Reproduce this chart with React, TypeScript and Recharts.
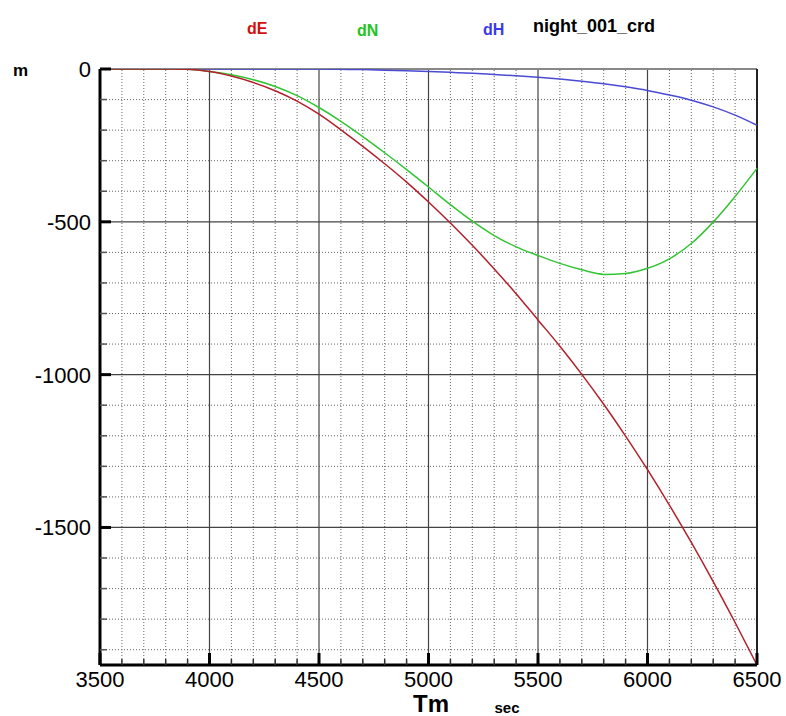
import { LineChart, Line, XAxis, YAxis, ReferenceLine } from "recharts";

// time in sec
const times = [
  3500, 3600, 3700, 3800, 3900, 4000, 4100, 4200, 4300, 4400, 4500, 4600, 4700, 4800, 4900, 5000,
  5100, 5200, 5300, 5400, 5500, 5600, 5700, 5800, 5900, 6000, 6100, 6200, 6300, 6400, 6500,
];
const dE = [
  0, 0, 0, 0, -1, -8, -23, -44, -71, -105, -148, -199, -253, -310, -370, -435,
  -504, -577, -654, -735, -821, -907, -999, -1097, -1201, -1311, -1427, -1549, -1677, -1811, -1950,
];
const dN = [
  0, 0, 0, 0, -1, -8, -19, -35, -57, -87, -126, -171, -221, -274, -329, -386,
  -444, -498, -545, -582, -610, -636, -657, -672, -669, -652, -621, -571, -501, -417, -325,
];
const dH = [
  0, 0, 0, 0, 0, 0, 0, 0, 0, 0, 0, -1, -2, -4, -6, -8,
  -11, -14, -18, -22, -27, -33, -40, -48, -58, -70, -85, -102, -124, -151, -184,
];

const xTicks = times;
const xLabels = [3500, 4000, 4500, 5000, 5500, 6000, 6500];
const yTicks = [
  0, -100, -200, -300, -400, -500, -600, -700, -800, -900, -1000,
  -1100, -1200, -1300, -1400, -1500, -1600, -1700, -1800, -1900,
];
const yLabels = [0, -500, -1000, -1500];

const xMajor = xLabels.filter((v) => v > 3500 && v < 6500);
const xMinor = xTicks.filter((v) => v > 3500 && v < 6500 && !xLabels.includes(v));
const yMajor = yLabels.filter((v) => v < 0);
const yMinor = yTicks.filter((v) => v < 0 && !yLabels.includes(v));

const data = times.map((t, i) => ({ t, dE: dE[i], dN: dN[i], dH: dH[i] }));

const FONT = "'Liberation Sans', Arial, sans-serif";

function XTick({ x, y, payload }: any) {
  const major = xLabels.includes(payload.value);
  return (
    <g>
      <line x1={x} x2={x} y1={y} y2={y - (major ? 12 : 6)} stroke={major ? "#000" : "#333"} strokeWidth={major ? 3 : 1.5} />
      {major && (
        <text x={x} y={y + 22} textAnchor="middle" fontSize={22} fontFamily={FONT} fill="#000">
          {payload.value}
        </text>
      )}
    </g>
  );
}

function YTick({ x, y, payload }: any) {
  const major = yLabels.includes(payload.value);
  return (
    <g>
      <line x1={x} x2={x + (major ? 11 : 7)} y1={y} y2={y} stroke={major ? "#000" : "#555"} strokeWidth={major ? 3 : 1.5} />
      {major && (
        <text x={x - 9} y={y + 8} textAnchor="end" fontSize={22} fontFamily={FONT} fill="#000">
          {payload.value}
        </text>
      )}
    </g>
  );
}

export default function App() {
  return (
    <div style={{ position: "absolute", left: 0, top: 0, width: 786, height: 716, background: "#fff" }}>
      <LineChart width={786} height={716} data={data} margin={{ top: 69, right: 29, bottom: 21, left: 40 }}>
        <XAxis
          type="number"
          dataKey="t"
          domain={[3500, 6500]}
          ticks={xTicks}
          interval={0}
          tickSize={0}
          tickMargin={0}
          height={30}
          axisLine={{ stroke: "#000", strokeWidth: 3 }}
          tick={<XTick />}
        />
        <YAxis
          type="number"
          domain={[-1950, 0]}
          ticks={yTicks}
          interval={0}
          tickSize={0}
          tickMargin={0}
          width={60}
          allowDataOverflow
          axisLine={{ stroke: "#000", strokeWidth: 3 }}
          tick={<YTick />}
        />
        {xMinor.map((v) => (
          <ReferenceLine key={"xm" + v} x={v} stroke="#666" strokeDasharray="1 2" />
        ))}
        {yMinor.map((v) => (
          <ReferenceLine key={"ym" + v} y={v} stroke="#666" strokeDasharray="1 2" />
        ))}
        {xMajor.map((v) => (
          <ReferenceLine key={"xM" + v} x={v} stroke="#444" strokeWidth={1.2} />
        ))}
        {yMajor.map((v) => (
          <ReferenceLine key={"yM" + v} y={v} stroke="#444" strokeWidth={1.2} />
        ))}
        <ReferenceLine y={0} stroke="#888" strokeWidth={2} />
        <ReferenceLine x={6500} stroke="#222" strokeWidth={2} />
        <Line type="monotone" dataKey="dH" stroke="#4a4ad4" strokeWidth={1.5} dot={false} isAnimationActive={false} />
        <Line type="monotone" dataKey="dN" stroke="#33c433" strokeWidth={1.5} dot={false} isAnimationActive={false} />
        <Line type="monotone" dataKey="dE" stroke="#b3202c" strokeWidth={1.5} dot={false} isAnimationActive={false} />
      </LineChart>
      <svg width={786} height={716} style={{ position: "absolute", left: 0, top: 0, pointerEvents: "none" }}>
        <g fontFamily={FONT} fontWeight="bold">
          <text x={247} y={34} fontSize={16} fill="#d01010">dE</text>
          <text x={357} y={36} fontSize={16} fill="#22c322">dN</text>
          <text x={483} y={35} fontSize={16} fill="#3a3ae8">dH</text>
          <text x={533} y={32} fontSize={18} fill="#000">night_001_crd</text>
          <text x={13} y={76} fontSize={17} fill="#000">m</text>
          <text x={431} y={712} fontSize={24} textAnchor="middle" fill="#000">Tm</text>
          <text x={507} y={713} fontSize={15} textAnchor="middle" fill="#000">sec</text>
        </g>
      </svg>
    </div>
  );
}
